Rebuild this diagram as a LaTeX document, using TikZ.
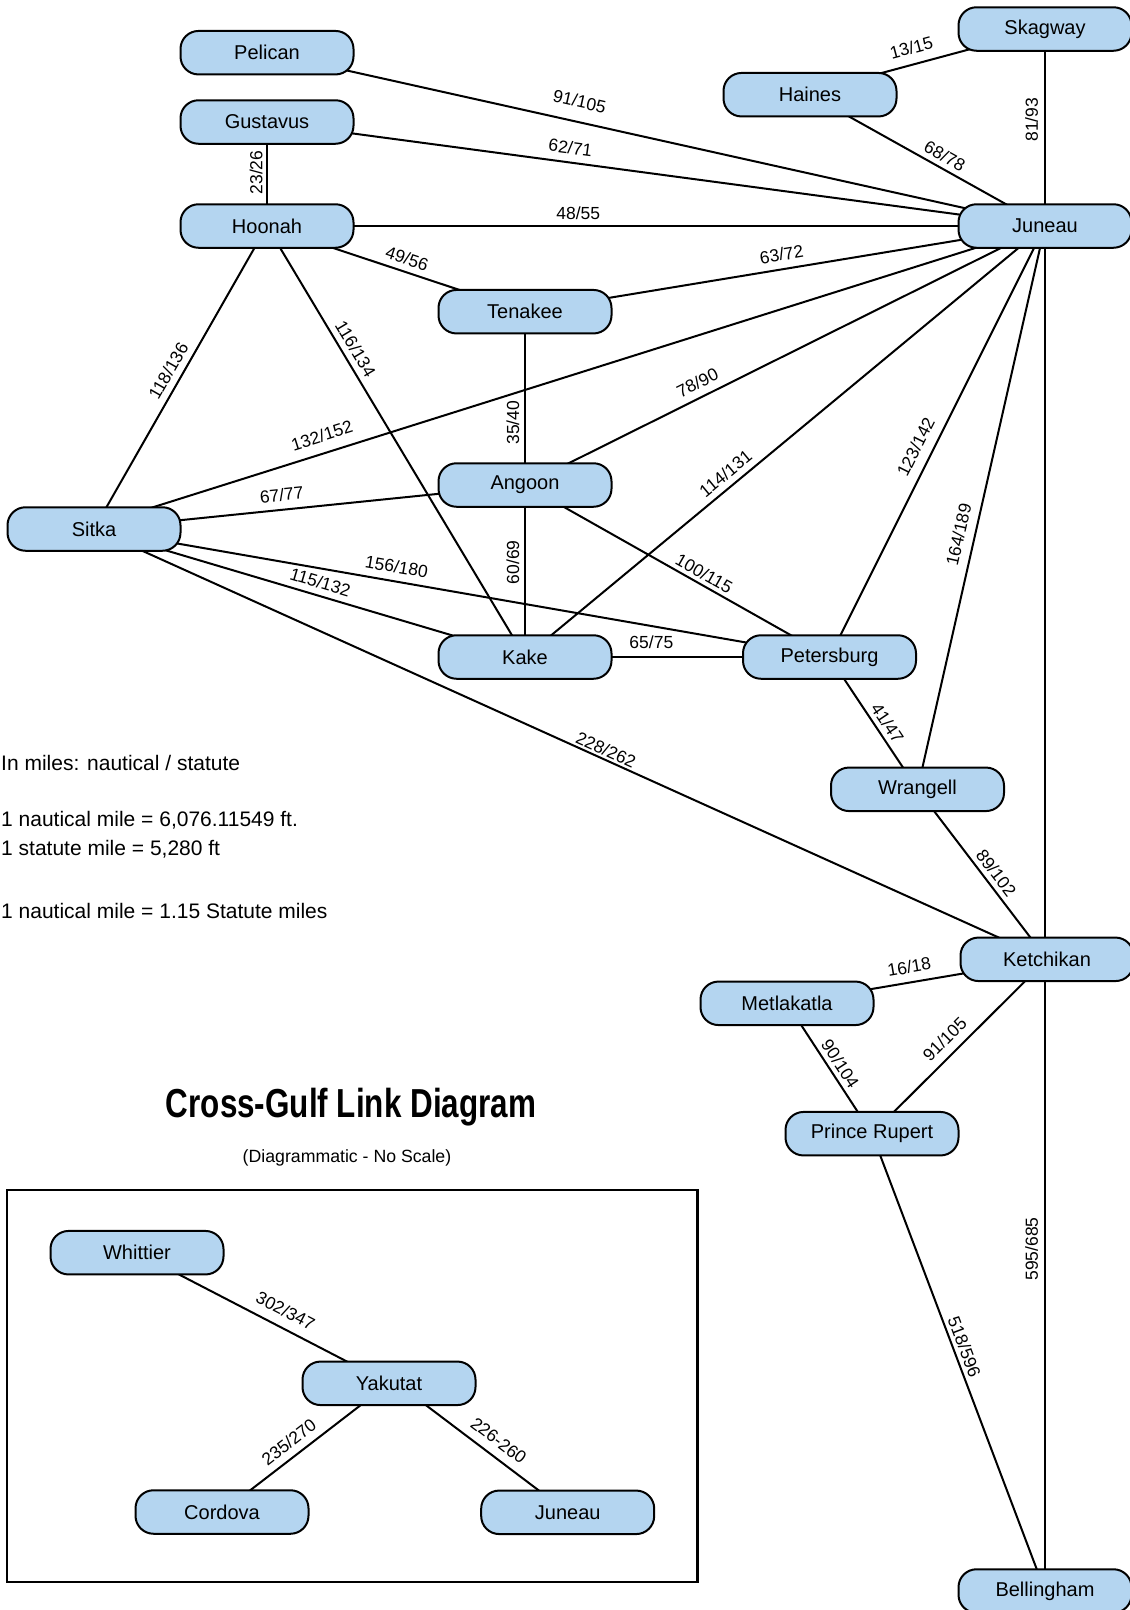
\documentclass[tikz,border=0pt]{standalone}
\usepackage{fontspec}
\usepackage{graphicx}
\setmainfont{Liberation Sans}
\usetikzlibrary{backgrounds}
\definecolor{nodeblue}{RGB}{180,213,240}
\begin{document}
\begin{tikzpicture}[x=1pt,y=-1pt,
  city/.style={draw=black, line width=2pt, fill=nodeblue, rounded corners=18pt,
    minimum width=173pt, minimum height=43.5pt, inner sep=0pt,
    font=\fontsize{20}{24}\selectfont},
  link/.style={draw=black, line width=2pt},
  lbl/.style={font=\fontsize{17.5}{20}\selectfont, sloped, inner sep=0pt,
    text height=12.5pt, text depth=0pt},
  note/.style={anchor=base west, inner sep=0pt, font=\fontsize{21}{25}\selectfont}]
\useasboundingbox (0,0) rectangle (1130,1610);

% main network
\node[city] (Pelican)    at (267,52.7)  {Pelican};
\node[city] (Gustavus)   at (267,122)   {Gustavus};
\node[city] (Hoonah)     at (267,226)   {Hoonah};
\node[city] (Tenakee)    at (525,311.7) {Tenakee};
\node[city] (Angoon)     at (525,485)   {Angoon};
\node[city] (Sitka)      at (94,529)    {Sitka};
\node[city] (Kake)       at (525,657)   {Kake};
\node[city] (Petersburg) at (829.5,657) {Petersburg};
\node[city] (Wrangell)   at (917.5,789.3) {Wrangell};
\node[city] (Ketchikan)  at (1047,959.3)  {Ketchikan};
\node[city] (Metlakatla) at (787,1003.3)  {Metlakatla};
\node[city] (Rupert)     at (872,1133.7)  {Prince Rupert};
\node[city] (Bellingham) at (1045,1591)   {Bellingham};
\node[city] (Juneau)     at (1045,226)    {Juneau};
\node[city] (Skagway)    at (1045,29)     {Skagway};
\node[city] (Haines)     at (810,94.7)    {Haines};

% inset
\draw[line width=2.2pt] (7,1190) rectangle (697.5,1582);
\node[city] (Whittier) at (137,1252.7)  {Whittier};
\node[city] (Yakutat)  at (389,1383.3)  {Yakutat};
\node[city] (Cordova)  at (222,1512)    {Cordova};
\node[city] (JuneauB)  at (567.7,1512.3){Juneau};

% texts
\node[note] (n1) at (1,770) {In miles: nautical / statute};
\node[note] (n2) at (1,826) {1 nautical mile = 6,076.11549 ft.};
\node[note] (n3) at (1,855) {1 statute mile = 5,280 ft};
\node[note] (n4) at (1,918) {1 nautical mile = 1.15 Statute miles};
\node[anchor=base, inner sep=0pt, font=\fontsize{40.5}{48}\selectfont\bfseries] (title) at (351,1117)
  {\scalebox{0.776}[1]{Cross-Gulf Link Diagram}};
\node[anchor=base, inner sep=0pt, font=\fontsize{17.7}{21}\selectfont] (subtitle) at (347,1162)
  {(Diagrammatic - No Scale)};

\begin{scope}[on background layer]
\fill[white] (0,0) rectangle (1130,1610);
\draw[link] (Pelican.center) -- node[lbl,pos=0.396,above=13.2pt]{91/105} (Juneau.center);
\draw[link] (Gustavus.center) -- node[lbl,pos=0.3875,above=7.5pt]{62/71} (Juneau.center);
\draw[link] (Hoonah.center) -- node[lbl,pos=0.40,above=5.4pt]{48/55} (Juneau.center);
\draw[link] (Hoonah.center) -- node[lbl,pos=0.515,above=3.6pt]{23/26} (Gustavus.center);
\draw[link] (Hoonah.center) -- node[lbl,pos=0.527,above=5.9pt]{49/56} (Tenakee.center);
\draw[link] (Tenakee.center) -- node[lbl,pos=0.498,above=7.6pt]{63/72} (Juneau.center);
\draw[link] ([xshift=-9pt]Haines.center) -- node[lbl,pos=0.47,above=9.5pt]{13/15} (Skagway.center);
\draw[link] (Haines.center) -- node[lbl,pos=0.548,above=5pt]{68/78} (Juneau.center);
\draw[link] (Juneau.center) -- node[lbl,pos=0.539,above=6.25pt]{81/93} (Skagway.center);
\draw[link] (Sitka.center) -- node[lbl,pos=0.499,above=6.6pt]{118/136} (Hoonah.center);
\draw[link] (Hoonah.center) -- node[lbl,pos=0.30,above=5.8pt]{116/134} (Kake.center);
\draw[link] ([xshift=-10pt]Sitka.center) -- node[lbl,pos=0.253,above=10.3pt]{132/152} (Juneau.center);
\draw[link] (Angoon.center) -- node[lbl,pos=0.359,above=5pt]{35/40} (Tenakee.center);
\draw[link] (Angoon.center) -- node[lbl,pos=0.344,above=7.4pt]{78/90} (Juneau.center);
\draw[link] (Kake.center) -- node[lbl,pos=0.402,above=6.1pt]{114/131} (Juneau.center);
\draw[link] (Petersburg.center) -- node[lbl,pos=0.47,above=9.6pt]{123/142} (Juneau.center);
\draw[link] (Wrangell.center) -- node[lbl,pos=0.446,above=8.9pt]{164/189} (Juneau.center);
\draw[link] (Sitka.center) -- node[lbl,pos=0.439,above=7.7pt]{67/77} (Angoon.center);
\draw[link] (Sitka.center) -- node[lbl,pos=0.408,above=7.6pt]{156/180} (Petersburg.center);
\draw[link] (Sitka.center) -- node[lbl,pos=0.516,above=6.3pt]{115/132} (Kake.center);
\draw[link] (Kake.center) -- node[lbl,pos=0.55,above=5pt]{60/69} (Angoon.center);
\draw[link] (Angoon.center) -- node[lbl,pos=0.571,above=3.6pt]{100/115} (Petersburg.center);
\draw[link] (Kake.center) -- node[lbl,pos=0.415,above=7.2pt]{65/75} (Petersburg.center);
\draw[link] (Petersburg.center) -- node[lbl,pos=0.548,above=4.5pt]{41/47} (Wrangell.center);
\draw[link] (Sitka.center) -- node[lbl,pos=0.533,above=2.6pt]{228/262} (Ketchikan.center);
\draw[link] (Wrangell.center) -- node[lbl,pos=0.534,above=4.8pt]{89/102} (Ketchikan.center);
\draw[link] (Metlakatla.center) -- node[lbl,pos=0.48,above=8.3pt]{16/18} (Ketchikan.center);
\draw[link] (Metlakatla.center) -- node[lbl,pos=0.5125,above=4.4pt]{90/104} (Rupert.center);
\draw[link] (Rupert.center) -- node[lbl,pos=0.479,above=8.7pt]{91/105} (Ketchikan.center);
\draw[link] (Bellingham.center) -- node[lbl,pos=0.2506,above=6.25pt]{595/685} (Juneau.center);
\draw[link] (Rupert.center) -- node[lbl,pos=0.475,above=3.8pt]{518/596} (Bellingham.center);
\draw[link] (Whittier.center) -- node[lbl,pos=0.559,above=9.6pt]{302/347} (Yakutat.center);
\draw[link] (Cordova.center) -- node[lbl,pos=0.453,above=7.2pt]{235/270} (Yakutat.center);
\draw[link] ([xshift=8pt]Yakutat.center) -- node[lbl,pos=0.54,above=8.5pt]{226-260} (JuneauB.center);
\end{scope}
\end{tikzpicture}
\end{document}
